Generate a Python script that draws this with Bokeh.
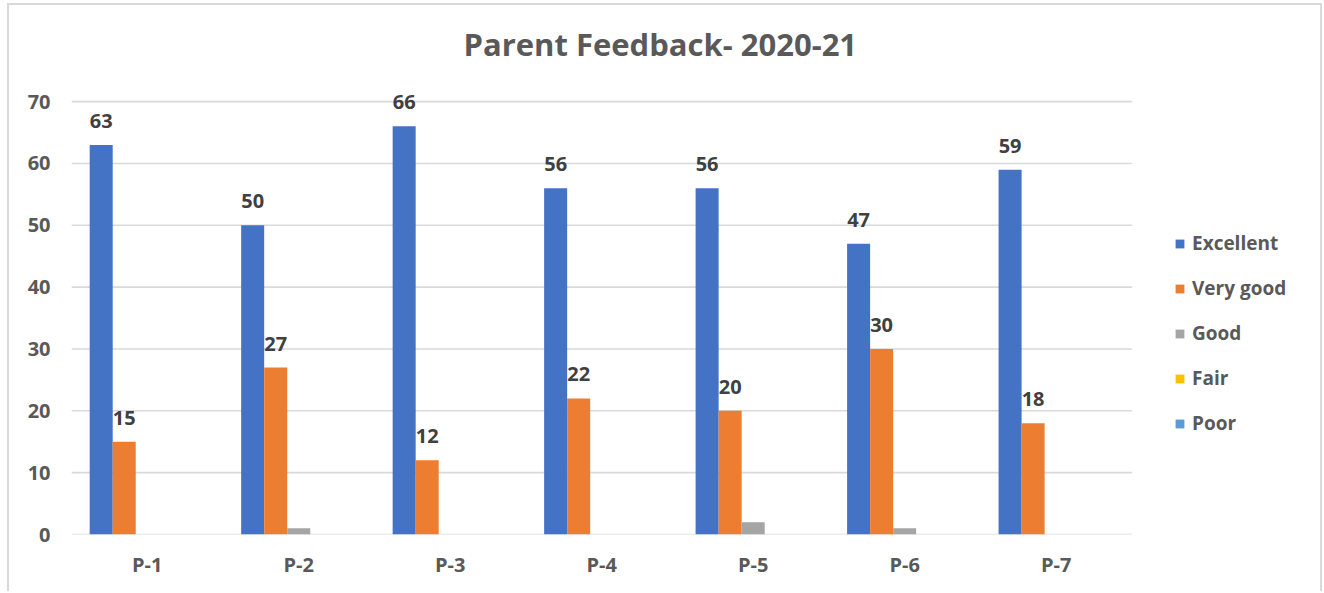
from bokeh.plotting import figure
from bokeh.models import ColumnDataSource, FixedTicker, Legend, LegendItem, LabelSet, Range1d
from bokeh.core.properties import value
from bokeh.transform import dodge
from bokeh.embed import file_html
from bokeh.resources import INLINE

categories = ["P-1", "P-2", "P-3", "P-4", "P-5", "P-6", "P-7"]
excellent = [63, 50, 66, 56, 56, 47, 59]
very_good = [15, 27, 12, 22, 20, 30, 18]
good = [0, 1, 0, 0, 2, 1, 0]
fair = [0, 0, 0, 0, 0, 0, 0]
poor = [0, 0, 0, 0, 0, 0, 0]
series_names = ["Excellent", "Very good", "Good", "Fair", "Poor"]
series_values = [excellent, very_good, good, fair, poor]
series_colors = ["#4472C4", "#ED7D31", "#A5A5A5", "#FFC000", "#5B9BD5"]
labeled = [True, True, False, False, False]
y_ticks = [0, 10, 20, 30, 40, 50, 60, 70]
title_text = "Parent Feedback- 2020-21"

FONT = "Open Sans"
TXT = "#595959"
GRID = "#D9D9D9"

W, H = 1315, 588
ML, MT, MB = 62, 59, 59
frame_w = W - 4 - ML
cat_px = 151.0
ncat = len(categories)
xpos = list(range(ncat))

p = figure(x_range=Range1d(-0.5, -0.5 + frame_w / cat_px), y_range=(0, 76),
           width=W, height=H, output_backend="svg", toolbar_location=None,
           min_border_left=ML, min_border_right=0, min_border_top=MT, min_border_bottom=MB)
p.styles = {"border-top": "2px solid #D9D9D9", "border-left": "2px solid #D9D9D9",
            "border-right": "2px solid #D9D9D9", "margin-left": "7px", "margin-top": "3px"}
p.outline_line_color = None
p.xgrid.grid_line_color = None
p.ygrid.grid_line_color = None

# horizontal gridlines spanning only the category area
p.segment(x0=-0.5, x1=ncat - 0.5, y0=y_ticks, y1=y_ticks, line_color=GRID, line_width=1.6)

p.xaxis.ticker = FixedTicker(ticks=xpos)
p.xaxis.major_label_overrides = {i: c for i, c in zip(xpos, categories)}
p.yaxis.ticker = FixedTicker(ticks=y_ticks)
for ax in (p.xaxis, p.yaxis):
    ax.axis_line_color = None
    ax.major_tick_line_color = None
    ax.minor_tick_line_color = None
    ax.major_label_text_font = FONT
    ax.major_label_text_font_style = "bold"
    ax.major_label_text_font_size = "20px"
    ax.major_label_text_color = TXT
p.xaxis.major_label_standoff = 10
p.yaxis.major_label_standoff = 15

p.title.text = title_text
p.title.align = "left"
p.title.offset = 392
p.title.text_font = FONT
p.title.text_font_style = "bold"
p.title.text_font_size = "31px"
p.title.text_color = TXT
p.title.standoff = 0

bw = 0.152
n = len(series_names)
items = []
for i, (name, vals, col, lab) in enumerate(zip(series_names, series_values, series_colors, labeled)):
    off = (i - (n - 1) / 2) * bw
    src = ColumnDataSource(dict(x=xpos, v=vals, t=[str(v) for v in vals]))
    r = p.vbar(x=dodge("x", off), top="v", width=bw, source=src,
               fill_color=col, line_color=None)
    items.append(LegendItem(label=name, renderers=[r]))
    if lab:
        ls = LabelSet(x=dodge("x", off), y="v", text="t", source=src,
                      text_align="center", text_baseline="alphabetic", y_offset=17,
                      text_font=value(FONT), text_font_style="bold", text_font_size="20px",
                      text_color="#404040")
        p.add_layout(ls)

legend = Legend(items=items, location=(1103, 98), orientation="vertical",
                label_text_font=FONT, label_text_font_style="bold",
                label_text_font_size="19px", label_text_color=TXT,
                glyph_width=11, glyph_height=11, label_standoff=7,
                spacing=19, padding=0, margin=0,
                border_line_color=None, background_fill_alpha=0)
p.add_layout(legend, "center")

open("out.html", "w").write(file_html(p, INLINE))
